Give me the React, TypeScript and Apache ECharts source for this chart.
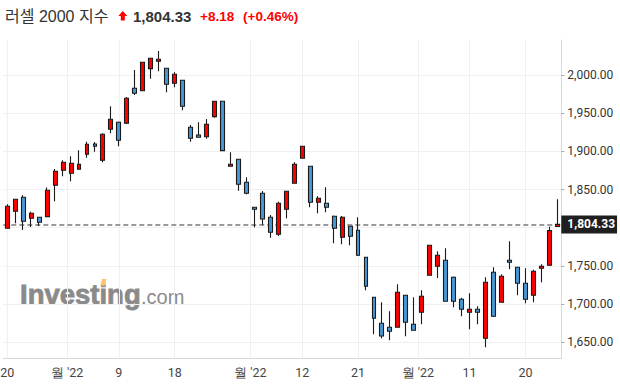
import React, { useEffect, useRef } from 'react';
import * as echarts from 'echarts';

// Trading days 2022-07-20 .. 2022-10-26
const dates = [
  '2022-07-20','2022-07-21','2022-07-22','2022-07-25','2022-07-26','2022-07-27','2022-07-28','2022-07-29',
  '2022-08-01','2022-08-02','2022-08-03','2022-08-04','2022-08-05','2022-08-08','2022-08-09','2022-08-10',
  '2022-08-11','2022-08-12','2022-08-15','2022-08-16','2022-08-17','2022-08-18','2022-08-19','2022-08-22',
  '2022-08-23','2022-08-24','2022-08-25','2022-08-26','2022-08-29','2022-08-30','2022-08-31',
  '2022-09-01','2022-09-02','2022-09-06','2022-09-07','2022-09-08','2022-09-09','2022-09-12','2022-09-13',
  '2022-09-14','2022-09-15','2022-09-16','2022-09-19','2022-09-20','2022-09-21','2022-09-22','2022-09-23',
  '2022-09-26','2022-09-27','2022-09-28','2022-09-29','2022-09-30',
  '2022-10-03','2022-10-04','2022-10-05','2022-10-06','2022-10-07','2022-10-10','2022-10-11','2022-10-12',
  '2022-10-13','2022-10-14','2022-10-17','2022-10-18','2022-10-19','2022-10-20','2022-10-21','2022-10-24',
  '2022-10-25','2022-10-26',
];

const opens = [
  1799.3, 1821.5, 1839.9, 1812.4, 1813.7, 1814.5, 1855.6, 1875.2, 1871.3, 1876.5,
  1896.2, 1909.7, 1888.3, 1928.9, 1938.1, 1936.8, 1982.6, 1979.4, 2008.3, 2017.9,
  2008.8, 1989.1, 1993.1, 1931.5, 1921.4, 1919.2, 1945.4, 1965.6, 1880.5, 1889.6,
  1859.5, 1826.8, 1845.1, 1813.7, 1791.4, 1824.1, 1858.2, 1890.9, 1880.5, 1833.3,
  1832.0, 1815.0, 1787.5, 1801.9, 1796.6, 1761.3, 1708.9, 1674.9, 1669.6, 1669.6,
  1711.5, 1673.6, 1689.3, 1737.7, 1749.5, 1757.4, 1735.1, 1706.3, 1689.3, 1693.2,
  1655.2, 1741.7, 1702.4, 1757.4, 1748.2, 1727.3, 1711.5, 1746.9, 1750.8, 1801.5,
];
const closes = [
  1828.1, 1837.2, 1808.4, 1818.9, 1807.1, 1849.0, 1873.9, 1885.7, 1884.4, 1883.1,
  1909.3, 1906.6, 1922.4, 1942.0, 1914.5, 1969.5, 1976.0, 2016.6, 2021.9, 2020.6,
  1987.8, 2000.9, 1959.0, 1917.1, 1918.4, 1935.4, 1965.6, 1900.9, 1883.1, 1856.9,
  1845.1, 1824.1, 1811.4, 1794.0, 1832.0, 1847.7, 1883.1, 1906.6, 1833.3, 1838.5,
  1826.8, 1799.3, 1813.7, 1788.8, 1763.9, 1723.3, 1681.4, 1658.2, 1664.4, 1715.5,
  1676.2, 1665.7, 1710.2, 1777.0, 1763.9, 1703.7, 1703.7, 1693.2, 1693.2, 1689.3,
  1728.6, 1684.0, 1736.4, 1754.8, 1727.3, 1706.3, 1743.0, 1749.5, 1796.15, 1804.33,
];
const lows = [
  1799.3, 1805.8, 1797.0, 1801.0, 1802.3, 1814.0, 1834.6, 1867.4, 1860.8, 1876.0,
  1891.7, 1899.6, 1885.7, 1923.7, 1906.6, 1935.8, 1973.8, 1979.0, 1995.2, 2004.8,
  1977.3, 1983.9, 1953.8, 1912.7, 1918.0, 1916.6, 1944.1, 1900.0, 1880.0, 1848.5,
  1843.8, 1800.6, 1803.6, 1787.0, 1789.2, 1812.4, 1858.0, 1890.5, 1826.8, 1818.9,
  1820.2, 1779.6, 1778.3, 1777.0, 1763.0, 1718.1, 1660.5, 1655.2, 1652.6, 1669.0,
  1657.9, 1665.0, 1673.6, 1737.0, 1734.2, 1703.0, 1695.8, 1684.0, 1667.0, 1673.6,
  1643.4, 1683.0, 1702.0, 1745.6, 1711.5, 1701.1, 1702.4, 1728.6, 1750.0, 1801.0,
];
const highs = [
  1830.7, 1838.0, 1842.5, 1821.0, 1814.0, 1852.5, 1876.9, 1888.3, 1893.5, 1901.4,
  1912.7, 1912.3, 1923.7, 1959.0, 1939.0, 1971.2, 2006.5, 2017.0, 2022.5, 2031.4,
  2009.0, 2003.5, 1993.5, 1934.5, 1938.1, 1942.4, 1966.0, 1966.0, 1898.8, 1890.0,
  1866.0, 1827.0, 1848.1, 1816.7, 1834.1, 1848.0, 1885.7, 1907.0, 1881.0, 1841.2,
  1853.0, 1816.0, 1815.4, 1802.5, 1813.7, 1762.0, 1709.0, 1702.4, 1690.6, 1725.9,
  1712.0, 1708.9, 1718.0, 1777.5, 1769.2, 1773.1, 1736.0, 1708.4, 1714.2, 1697.1,
  1735.1, 1748.2, 1739.0, 1782.2, 1749.0, 1746.9, 1745.0, 1752.1, 1801.4, 1837.2,
];

// x tick labels and their positions (in candle-index units; .5 = between candles)
const xTickLabels = ['20', "월 '22", '9', '18', "월 '22", '12', '21', "월 '22", '11', '20'];
const xTickPos = [0, 7.5, 14, 21, 30.5, 37, 44, 51.5, 58, 65];

const indexName = '러셀 2000 지수';
const lastClose = 1804.33;
const change = 8.18;
const changePct = 0.46;

const yMin = 1629.4;
const yMax = 2045.8;

const fmt = (v: number) =>
  v.toLocaleString('en-US', { minimumFractionDigits: 2, maximumFractionDigits: 2 });

export default function App() {
  const ref = useRef<HTMLDivElement>(null);

  useEffect(() => {
    if (!ref.current) return;
    const chart = echarts.init(ref.current, null, { renderer: 'svg' });

    const halfCats: string[] = Array.from({ length: dates.length * 2 + 1 }, () => '');
    xTickPos.forEach((p, i) => {
      halfCats[Math.round(p * 2 + 1)] = xTickLabels[i];
    });
    const candleData = dates.map((_, i) => [opens[i], closes[i], lows[i], highs[i]]);
    const showIdx = (_i: number, v: string) => v !== '';

    const red = '#ff0000';
    const blue = '#4898d6';
    const dark = '#1a1a1a';

    chart.setOption({
      animation: false,
      backgroundColor: '#ffffff',
      grid: {
        left: 3.3,
        right: 58.7,
        top: 40,
        bottom: 29,
        containLabel: false,
        outerBoundsMode: 'none',
      },
      xAxis: [
        { type: 'category', data: dates, boundaryGap: true, show: false },
        {
          type: 'category',
          data: halfCats,
          boundaryGap: false,
          position: 'bottom',
          axisLine: { show: true, lineStyle: { color: '#d8d8e0', width: 1 } },
          axisTick: { show: false },
          axisLabel: {
            interval: showIdx,
            color: '#444',
            fontSize: 12.5,
            fontFamily: 'Roboto',
            margin: 8,
          },
          splitLine: { show: true, interval: showIdx, lineStyle: { color: '#f0f0f3', width: 1 } },
        },
      ],
      yAxis: {
        type: 'value',
        position: 'right',
        min: yMin,
        max: yMax,
        splitNumber: 8,
        minInterval: 50,
        maxInterval: 50,
        axisLine: { show: true, lineStyle: { color: '#d8d8e0' } },
        axisTick: { show: true, length: 3, lineStyle: { color: '#aaa' } },
        axisLabel: {
          // the 1,800 label sits under the last-price tag, as in the reference
          formatter: (v: number) => (Math.abs(v - lastClose) < 20 ? '' : fmt(v)),
          color: '#333',
          fontSize: 12,
          fontFamily: 'Roboto',
          margin: 6,
          showMinLabel: false,
          showMaxLabel: false,
        },
        splitLine: {
          show: true,
          showMinLine: false,
          showMaxLine: false,
          lineStyle: { color: '#f0f0f3' },
        },
      },
      series: [
        {
          type: 'candlestick',
          xAxisIndex: 0,
          yAxisIndex: 0,
          data: candleData,
          barWidth: 4.4,
          itemStyle: {
            color: red,
            color0: blue,
            borderColor: dark,
            borderColor0: dark,
            borderWidth: 1.1,
          },
          markLine: {
            symbol: 'none',
            silent: true,
            z: 1,
            data: [{ yAxis: lastClose }],
            lineStyle: { color: '#9a9a9a', type: [5, 3], width: 2 },
            label: {
              show: true,
              position: 'end',
              distance: 0,
              formatter: fmt(lastClose),
              color: '#fff',
              backgroundColor: '#1f1f1f',
              padding: [3, 2, 3, 6],
              fontSize: 12,
              fontWeight: 'bold',
              fontFamily: 'Roboto',
            },
            emphasis: { disabled: true },
          },
        },
      ],
      graphic: [
        {
          type: 'text',
          x: 5,
          y: 16,
          style: {
            text: indexName,
            font: '16px "Liberation Sans", "Noto Sans CJK KR", sans-serif',
            fill: '#333',
            verticalAlign: 'middle',
          },
        },
        {
          type: 'polygon',
          shape: {
            points: [
              [118.3, 16], [122.8, 11], [127.3, 16], [124.8, 16],
              [124.8, 20.5], [120.8, 20.5], [120.8, 16],
            ],
          },
          style: { fill: red },
        },
        {
          type: 'text',
          x: 133,
          y: 16,
          style: {
            text: fmt(lastClose),
            font: 'bold 15px "Liberation Sans", sans-serif',
            fill: '#333',
            verticalAlign: 'middle',
          },
        },
        {
          type: 'text',
          x: 200,
          y: 16,
          style: {
            text: '+' + change.toFixed(2),
            font: 'bold 13.5px "Liberation Sans", sans-serif',
            fill: red,
            verticalAlign: 'middle',
          },
        },
        {
          type: 'text',
          x: 243,
          y: 16,
          style: {
            text: '(+' + changePct.toFixed(2) + '%)',
            font: 'bold 13.5px "Liberation Sans", sans-serif',
            fill: red,
            verticalAlign: 'middle',
          },
        },
        {
          type: 'text',
          x: 20,
          y: 294,
          z: 0,
          style: {
            text: 'Investing',
            font: 'bold 27.5px "Liberation Sans", sans-serif',
            fill: '#8a8a8a',
            stroke: '#8a8a8a',
            lineWidth: 0.8,
            verticalAlign: 'middle',
          },
        },
        {
          type: 'text',
          x: 141,
          y: 297,
          z: 0,
          style: {
            text: '.com',
            font: '20px "Liberation Sans", sans-serif',
            fill: '#8a8a8a',
            verticalAlign: 'middle',
          },
        },
        {
          type: 'polygon',
          z: 1,
          shape: { points: [[100.5, 285.5], [102, 279], [106.5, 279], [105, 285.5]] },
          style: { fill: '#f8c378' },
        },
      ],
    });

    return () => chart.dispose();
  }, []);

  return (
    <div
      ref={ref}
      style={{ position: 'absolute', left: 0, top: 0, width: 620, height: 387, background: '#fff' }}
    />
  );
}
